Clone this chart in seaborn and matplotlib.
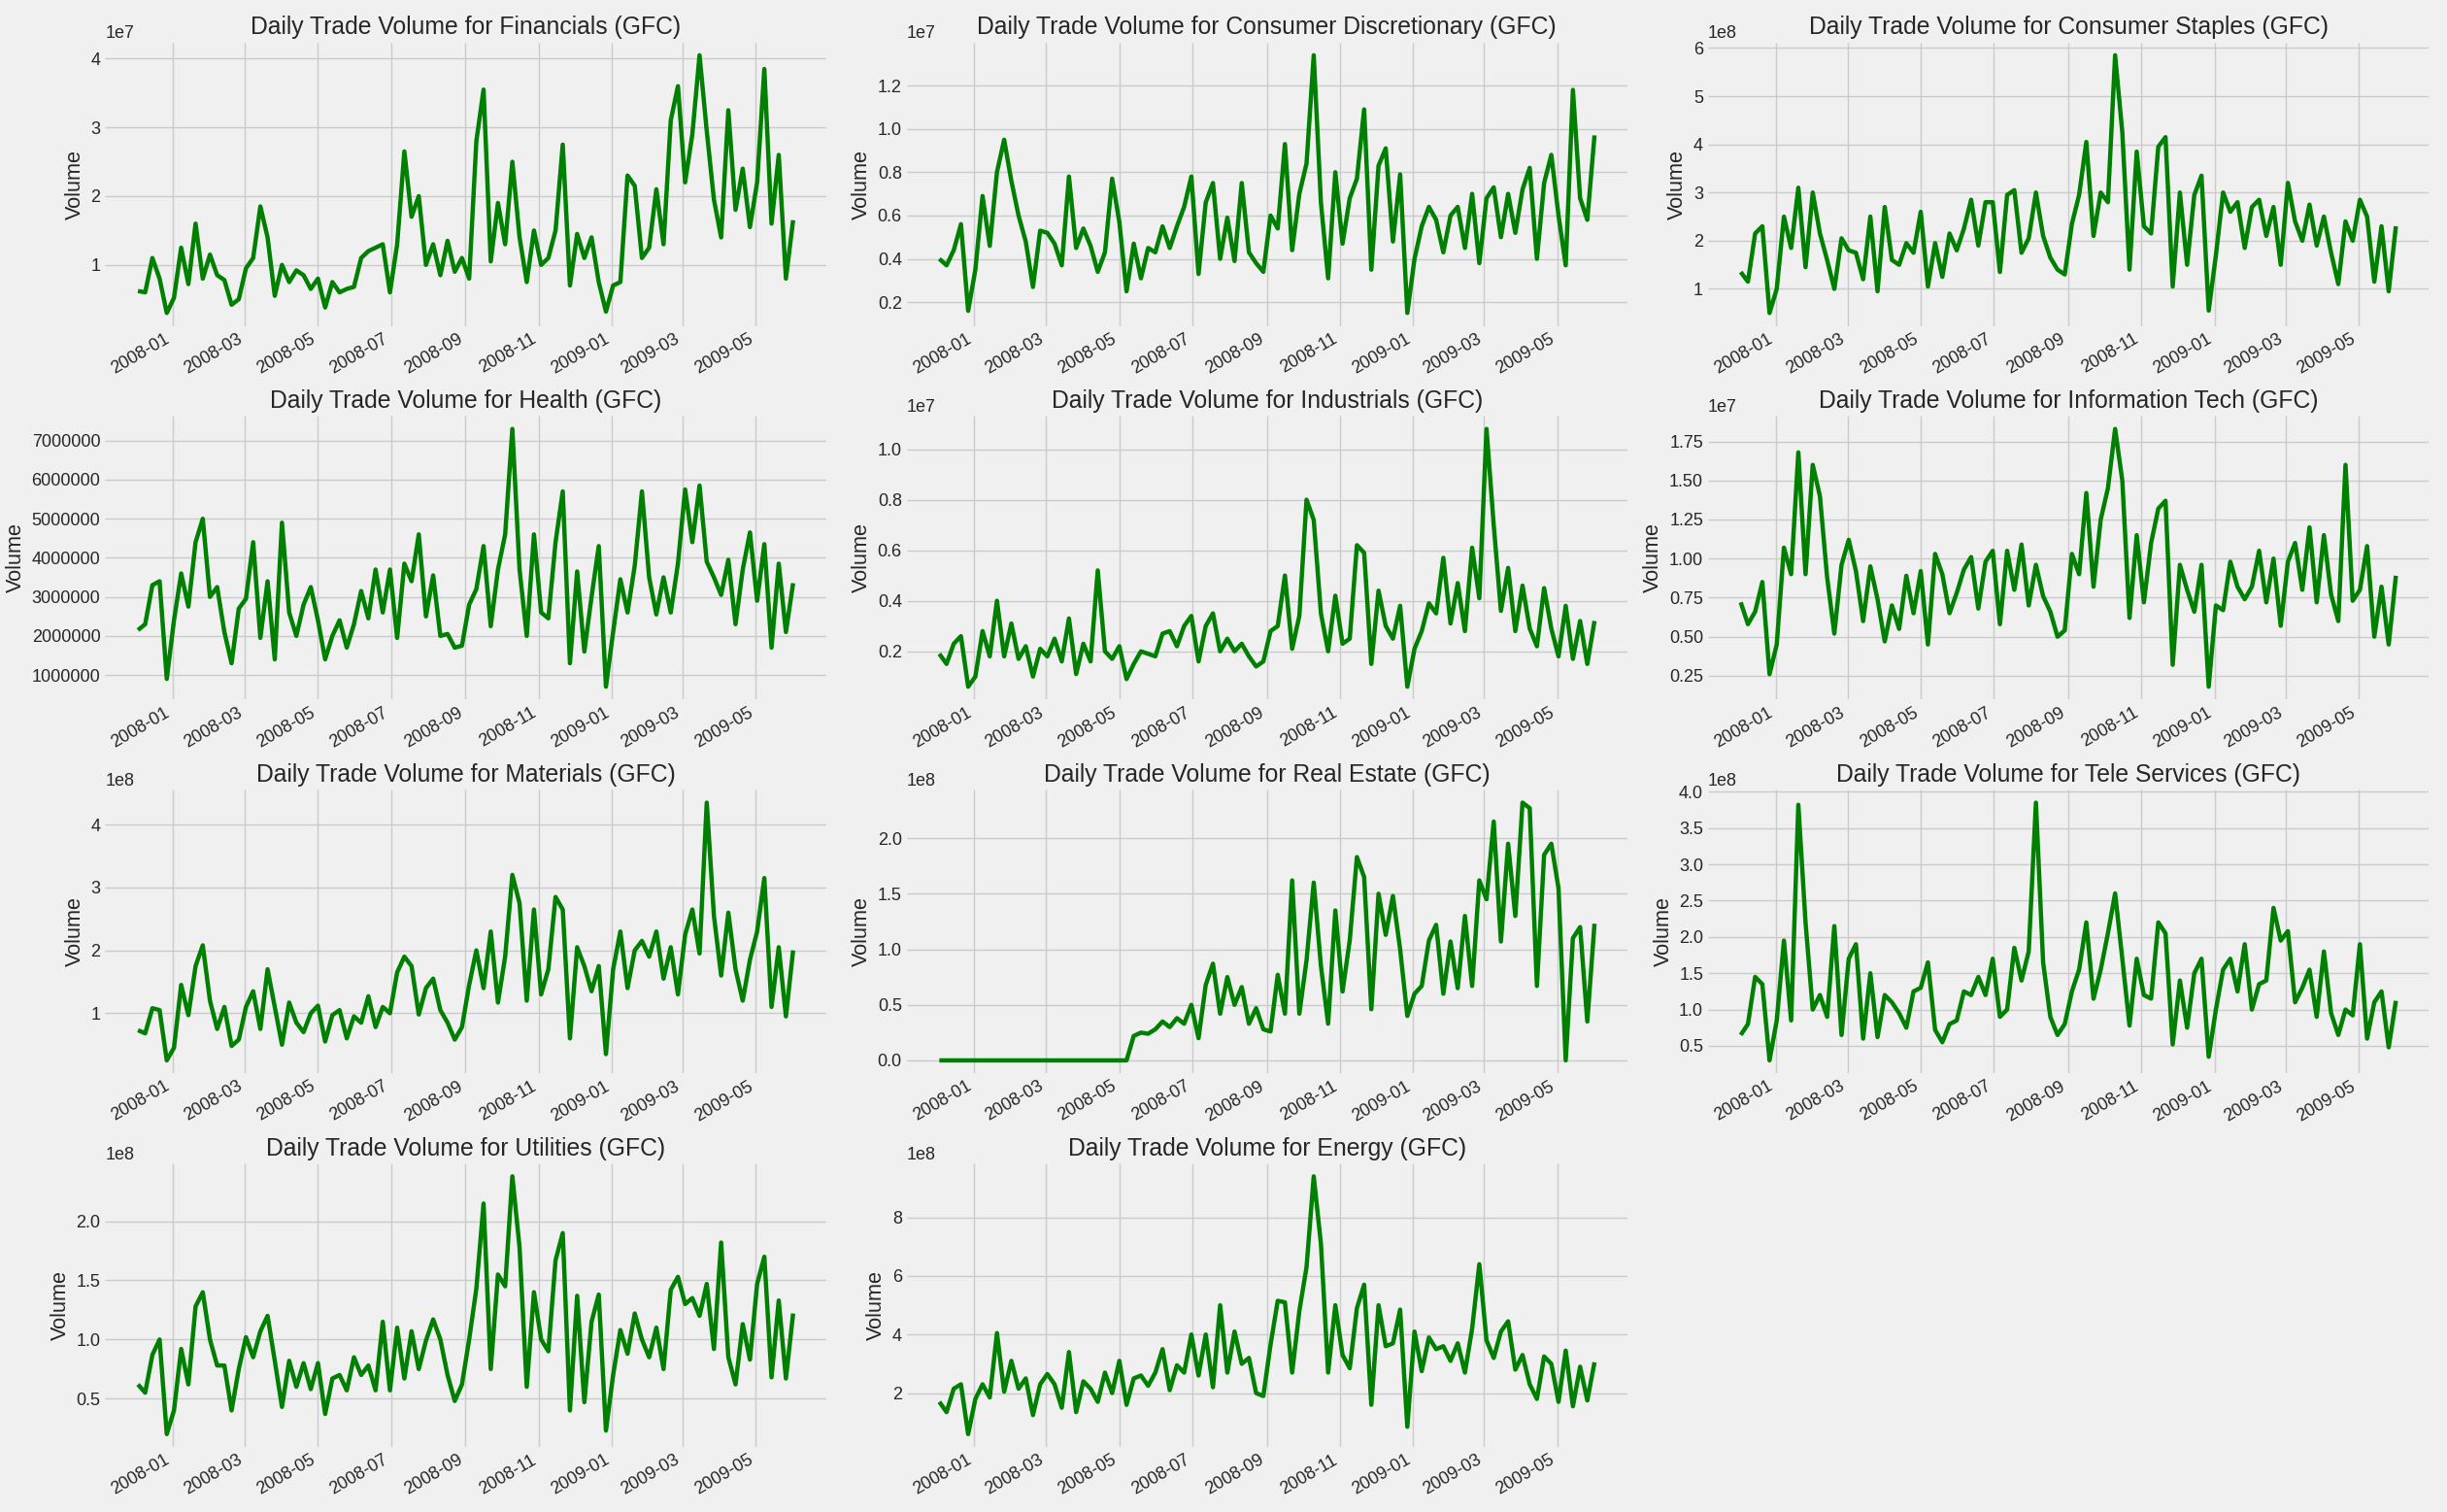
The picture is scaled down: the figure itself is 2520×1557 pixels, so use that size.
import numpy as np
import pandas as pd
import matplotlib
matplotlib.use("Agg")
import matplotlib.pyplot as plt
import seaborn as sns

# sample dates, every 6 days through the GFC window
dates = pd.date_range("2007-12-03", periods=92, freq="6D")

# ---- volumes (units noted per series) ----
financials = [0.62, 0.6, 1.1, 0.8, 0.3,
              0.52, 1.25, 0.72, 1.6, 0.8, 1.15, 0.85, 0.78, 0.42, 0.5,
              0.95, 1.1, 1.85, 1.4, 0.55, 1.0, 0.75, 0.92, 0.85, 0.65,
              0.8, 0.38, 0.75, 0.6, 0.65, 0.68, 1.1, 1.2, 1.25, 1.3, 0.6,
              1.3, 2.65, 1.7, 2.0, 1.0, 1.3, 0.85, 1.35, 0.9, 1.1,
              0.8, 2.8, 3.55, 1.05, 1.9, 1.3, 2.5, 1.4, 0.75, 1.5,
              1.0, 1.1, 1.5, 2.75, 0.7, 1.45, 1.1, 1.4, 0.75, 0.32,
              0.7, 0.75, 2.3, 2.15, 1.1, 1.25, 2.1, 1.3, 3.1, 3.6,
              2.2, 2.9, 4.05, 2.95, 1.95, 1.4, 3.25, 1.8, 2.4, 1.55,
              2.2, 3.85, 1.6, 2.6, 0.8, 1.65]  # 1e7
cons_disc = [0.4, 0.37, 0.44, 0.56, 0.16,
             0.35, 0.69, 0.46, 0.8, 0.95, 0.76, 0.6, 0.48, 0.27, 0.53,
             0.52, 0.47, 0.37, 0.78, 0.45, 0.54, 0.46, 0.34, 0.43, 0.77,
             0.57, 0.25, 0.47, 0.31, 0.45, 0.43, 0.55, 0.45, 0.55, 0.64, 0.78,
             0.33, 0.66, 0.75, 0.4, 0.59, 0.39, 0.75, 0.43, 0.38, 0.34,
             0.6, 0.54, 0.93, 0.44, 0.7, 0.84, 1.34, 0.66, 0.31, 0.8,
             0.47, 0.68, 0.77, 1.09, 0.35, 0.83, 0.91, 0.48, 0.79, 0.15,
             0.4, 0.55, 0.64, 0.58, 0.43, 0.6, 0.64, 0.45, 0.7, 0.38,
             0.68, 0.73, 0.5, 0.7, 0.52, 0.72, 0.82, 0.4, 0.75, 0.88,
             0.6, 0.37, 1.18, 0.68, 0.58, 0.97]  # 1e7
cons_staples = [1.35, 1.15, 2.15, 2.3, 0.5,
                1.0, 2.5, 1.85, 3.1, 1.45, 3.0, 2.15, 1.6, 1.0, 2.05,
                1.8, 1.75, 1.2, 2.5, 0.95, 2.7, 1.6, 1.5, 1.95, 1.75,
                2.6, 1.05, 1.95, 1.25, 2.15, 1.8, 2.25, 2.85, 1.9, 2.8, 2.8,
                1.35, 2.95, 3.05, 1.75, 2.05, 3.0, 2.1, 1.65, 1.4, 1.3,
                2.35, 2.95, 4.05, 2.1, 3.0, 2.8, 5.85, 4.25, 1.4, 3.85,
                2.3, 2.15, 3.95, 4.15, 1.05, 3.0, 1.5, 2.95, 3.35, 0.55,
                1.7, 3.0, 2.6, 2.8, 1.85, 2.7, 2.85, 2.1, 2.7, 1.5,
                3.2, 2.4, 2.0, 2.75, 1.9, 2.5, 1.75, 1.1, 2.4, 2.0,
                2.85, 2.5, 1.15, 2.3, 0.95, 2.3]  # 1e8
health = [2.15, 2.3, 3.3, 3.4, 0.9,
          2.4, 3.6, 2.75, 4.4, 5.0, 3.0, 3.25, 2.1, 1.3, 2.7,
          2.95, 4.4, 1.95, 3.4, 1.4, 4.9, 2.6, 2.0, 2.8, 3.25,
          2.4, 1.4, 2.0, 2.4, 1.7, 2.3, 3.15, 2.45, 3.7, 2.6, 3.7,
          1.95, 3.85, 3.4, 4.6, 2.5, 3.55, 2.0, 2.05, 1.7, 1.75,
          2.8, 3.2, 4.3, 2.25, 3.7, 4.6, 7.3, 3.7, 2.0, 4.6,
          2.6, 2.45, 4.4, 5.7, 1.3, 3.65, 1.6, 3.0, 4.3, 0.7,
          2.1, 3.45, 2.6, 3.8, 5.7, 3.5, 2.55, 3.5, 2.6, 3.85,
          5.75, 4.4, 5.85, 3.9, 3.5, 3.05, 3.95, 2.3, 3.7, 4.65,
          2.9, 4.35, 1.7, 3.85, 2.1, 3.35]  # 1e6
industrials = [0.19, 0.15, 0.23, 0.26, 0.06,
               0.1, 0.28, 0.18, 0.4, 0.18, 0.31, 0.17, 0.22, 0.1, 0.21,
               0.18, 0.25, 0.16, 0.33, 0.11, 0.23, 0.16, 0.52, 0.2, 0.17,
               0.22, 0.09, 0.15, 0.2, 0.19, 0.18, 0.27, 0.28, 0.22, 0.3, 0.34,
               0.16, 0.3, 0.35, 0.2, 0.25, 0.2, 0.23, 0.18, 0.14, 0.16,
               0.28, 0.3, 0.5, 0.21, 0.34, 0.8, 0.72, 0.35, 0.2, 0.42,
               0.23, 0.25, 0.62, 0.59, 0.15, 0.44, 0.3, 0.25, 0.38, 0.06,
               0.21, 0.28, 0.39, 0.35, 0.57, 0.31, 0.47, 0.28, 0.61, 0.41,
               1.08, 0.7, 0.36, 0.53, 0.28, 0.46, 0.29, 0.22, 0.45, 0.29,
               0.18, 0.38, 0.17, 0.32, 0.15, 0.32]  # 1e7
info_tech = [0.72, 0.58, 0.66, 0.85, 0.26,
             0.45, 1.07, 0.9, 1.68, 0.9, 1.6, 1.4, 0.88, 0.52, 0.96,
             1.12, 0.92, 0.6, 0.95, 0.74, 0.47, 0.7, 0.55, 0.89, 0.65,
             0.92, 0.45, 1.03, 0.9, 0.65, 0.78, 0.93, 1.01, 0.68, 0.98, 1.05,
             0.58, 1.05, 0.8, 1.09, 0.7, 0.96, 0.76, 0.66, 0.5, 0.54,
             1.03, 0.9, 1.42, 0.82, 1.25, 1.45, 1.83, 1.5, 0.62, 1.15,
             0.72, 1.1, 1.32, 1.37, 0.32, 0.96, 0.8, 0.66, 0.96, 0.18,
             0.7, 0.67, 0.98, 0.82, 0.74, 0.82, 1.05, 0.72, 1.0, 0.57,
             0.98, 1.1, 0.8, 1.2, 0.72, 1.15, 0.77, 0.6, 1.6, 0.73,
             0.8, 1.08, 0.5, 0.82, 0.45, 0.89]  # 1e7
materials = [0.73, 0.68, 1.08, 1.05, 0.25,
             0.45, 1.45, 0.97, 1.75, 2.08, 1.2, 0.75, 1.1, 0.48, 0.58,
             1.1, 1.35, 0.75, 1.7, 1.1, 0.5, 1.17, 0.85, 0.7, 1.0,
             1.12, 0.55, 0.97, 1.05, 0.6, 0.95, 0.85, 1.27, 0.78, 1.1, 1.0,
             1.65, 1.9, 1.75, 0.98, 1.4, 1.55, 1.05, 0.85, 0.58, 0.78,
             1.45, 2.0, 1.4, 2.3, 1.17, 1.9, 3.2, 2.75, 1.2, 2.65,
             1.3, 1.7, 2.85, 2.65, 0.6, 2.05, 1.75, 1.35, 1.75, 0.35,
             1.7, 2.3, 1.4, 2.0, 2.15, 1.9, 2.3, 1.55, 2.05, 1.3,
             2.25, 2.65, 1.95, 4.35, 2.55, 1.6, 2.6, 1.7, 1.2, 1.85,
             2.3, 3.15, 1.1, 2.05, 0.95, 2.0]  # 1e8
real_estate = [0, 0, 0, 0, 0,
               0, 0, 0, 0, 0, 0, 0, 0, 0, 0,
               0, 0, 0, 0, 0, 0, 0, 0, 0, 0,
               0, 0, 0.22, 0.25, 0.24, 0.28, 0.35, 0.3, 0.38, 0.33, 0.5,
               0.2, 0.68, 0.87, 0.42, 0.75, 0.5, 0.66, 0.33, 0.47, 0.28,
               0.26, 0.77, 0.42, 1.62, 0.42, 0.9, 1.6, 0.85, 0.33, 1.35,
               0.62, 1.08, 1.83, 1.65, 0.46, 1.5, 1.13, 1.48, 1.0, 0.4,
               0.6, 0.67, 1.08, 1.22, 0.6, 1.07, 0.65, 1.3, 0.67, 1.62,
               1.45, 2.15, 1.07, 1.95, 1.3, 2.32, 2.27, 0.67, 1.85, 1.95,
               1.55, 0.0, 1.1, 1.2, 0.35, 1.23]  # 1e8
tele = [0.65, 0.8, 1.45, 1.35, 0.3,
        0.85, 1.95, 0.85, 3.82, 2.2, 1.0, 1.2, 0.9, 2.15, 0.65,
        1.7, 1.9, 0.6, 1.5, 0.62, 1.2, 1.1, 0.95, 0.75, 1.25,
        1.3, 1.65, 0.72, 0.55, 0.8, 0.85, 1.25, 1.2, 1.45, 1.2, 1.7,
        0.9, 1.0, 1.85, 1.4, 1.8, 3.85, 1.65, 0.9, 0.65, 0.8,
        1.25, 1.55, 2.2, 1.15, 1.55, 2.05, 2.6, 1.7, 0.78, 1.7,
        1.2, 1.15, 2.2, 2.05, 0.52, 1.4, 0.75, 1.5, 1.7, 0.35,
        1.0, 1.55, 1.7, 1.25, 1.9, 1.0, 1.35, 1.4, 2.4, 1.95,
        2.08, 1.1, 1.3, 1.55, 0.9, 1.8, 0.95, 0.65, 1.0, 0.92,
        1.9, 0.6, 1.1, 1.25, 0.48, 1.12]  # 1e8
utilities = [0.62, 0.55, 0.87, 1.0, 0.2,
             0.4, 0.92, 0.62, 1.28, 1.4, 1.0, 0.78, 0.78, 0.4, 0.75,
             1.02, 0.85, 1.07, 1.2, 0.82, 0.43, 0.82, 0.6, 0.8, 0.58,
             0.8, 0.37, 0.67, 0.7, 0.57, 0.85, 0.7, 0.78, 0.57, 1.15, 0.57,
             1.1, 0.67, 1.07, 0.75, 0.99, 1.17, 1.0, 0.7, 0.48, 0.62,
             1.0, 1.43, 2.15, 0.75, 1.55, 1.45, 2.38, 1.78, 0.6, 1.4,
             1.0, 0.9, 1.67, 1.9, 0.4, 1.37, 0.47, 1.15, 1.38, 0.23,
             0.7, 1.08, 0.88, 1.22, 1.0, 0.85, 1.1, 0.75, 1.42, 1.53,
             1.3, 1.35, 1.2, 1.47, 0.92, 1.82, 0.85, 0.62, 1.13, 0.83,
             1.47, 1.7, 0.68, 1.33, 0.67, 1.22]  # 1e8
energy = [1.7, 1.35, 2.15, 2.3, 0.6,
          1.8, 2.3, 1.85, 4.05, 2.05, 3.1, 2.15, 2.5, 1.25, 2.3,
          2.65, 2.3, 1.5, 3.4, 1.35, 2.4, 2.15, 1.7, 2.7, 2.0,
          3.1, 1.6, 2.5, 2.6, 2.25, 2.7, 3.5, 2.1, 2.95, 2.7, 4.0,
          2.6, 4.0, 2.2, 5.0, 2.7, 4.1, 3.0, 3.2, 2.0, 1.9,
          3.65, 5.15, 5.1, 2.7, 4.8, 6.3, 9.4, 7.1, 2.7, 5.0,
          3.3, 2.85, 4.9, 5.7, 1.6, 5.0, 3.6, 3.7, 4.85, 0.85,
          4.1, 2.75, 3.9, 3.5, 3.6, 3.1, 3.7, 2.7, 4.2, 6.4,
          3.8, 3.2, 4.1, 4.45, 2.8, 3.3, 2.3, 1.8, 3.25, 3.0,
          1.7, 3.45, 1.55, 2.9, 1.75, 3.05]  # 1e8

sectors = ["Financials", "Consumer Discretionary", "Consumer Staples",
           "Health", "Industrials", "Information Tech",
           "Materials", "Real Estate", "Tele Services",
           "Utilities", "Energy"]
series = [financials, cons_disc, cons_staples, health, industrials, info_tech,
          materials, real_estate, tele, utilities, energy]
scales = [1e7, 1e7, 1e8, 1e6, 1e7, 1e7, 1e8, 1e8, 1e8, 1e8, 1e8]

plt.style.use("fivethirtyeight")
sns.set_style({"axes.facecolor": "#f0f0f0", "figure.facecolor": "#f0f0f0",
               "grid.color": "#cbcbcb", "axes.grid": True})
plt.rcParams["font.family"] = ["Liberation Sans", "DejaVu Sans"]
plt.rcParams["axes.formatter.limits"] = (-7, 7)
plt.rcParams["text.color"] = "#262626"
plt.rcParams["xtick.color"] = "#262626"
plt.rcParams["ytick.color"] = "#262626"
plt.rcParams["axes.labelcolor"] = "#262626"

fig, axes = plt.subplots(4, 3, figsize=(25.2, 15.57), dpi=100)
fig.patch.set_facecolor("#f0f0f0")
axes = axes.flatten()

for ax, name, vals, sc in zip(axes, sectors, series, scales):
    sns.lineplot(x=dates, y=np.array(vals) * sc, ax=ax, color="green",
                 linewidth=3.2)
    ax.set_title(f"Daily Trade Volume for {name} (GFC)", fontsize=17.8)
    ax.set_ylabel("Volume", fontsize=15.6)
    ax.set_xlabel("")
    ax.tick_params(axis="both", labelsize=13, length=0)
    ax.yaxis.get_offset_text().set_fontsize(13)
    plt.setp(ax.get_xticklabels(), rotation=30, ha="right")
    for s in ax.spines.values():
        s.set_visible(False)

axes[-1].axis("off")

fig.subplots_adjust(left=0.043, right=0.9925, top=0.972, bottom=0.043,
                    wspace=0.112, hspace=0.318)
fig.savefig("out.png", dpi=100, facecolor="#f0f0f0")
